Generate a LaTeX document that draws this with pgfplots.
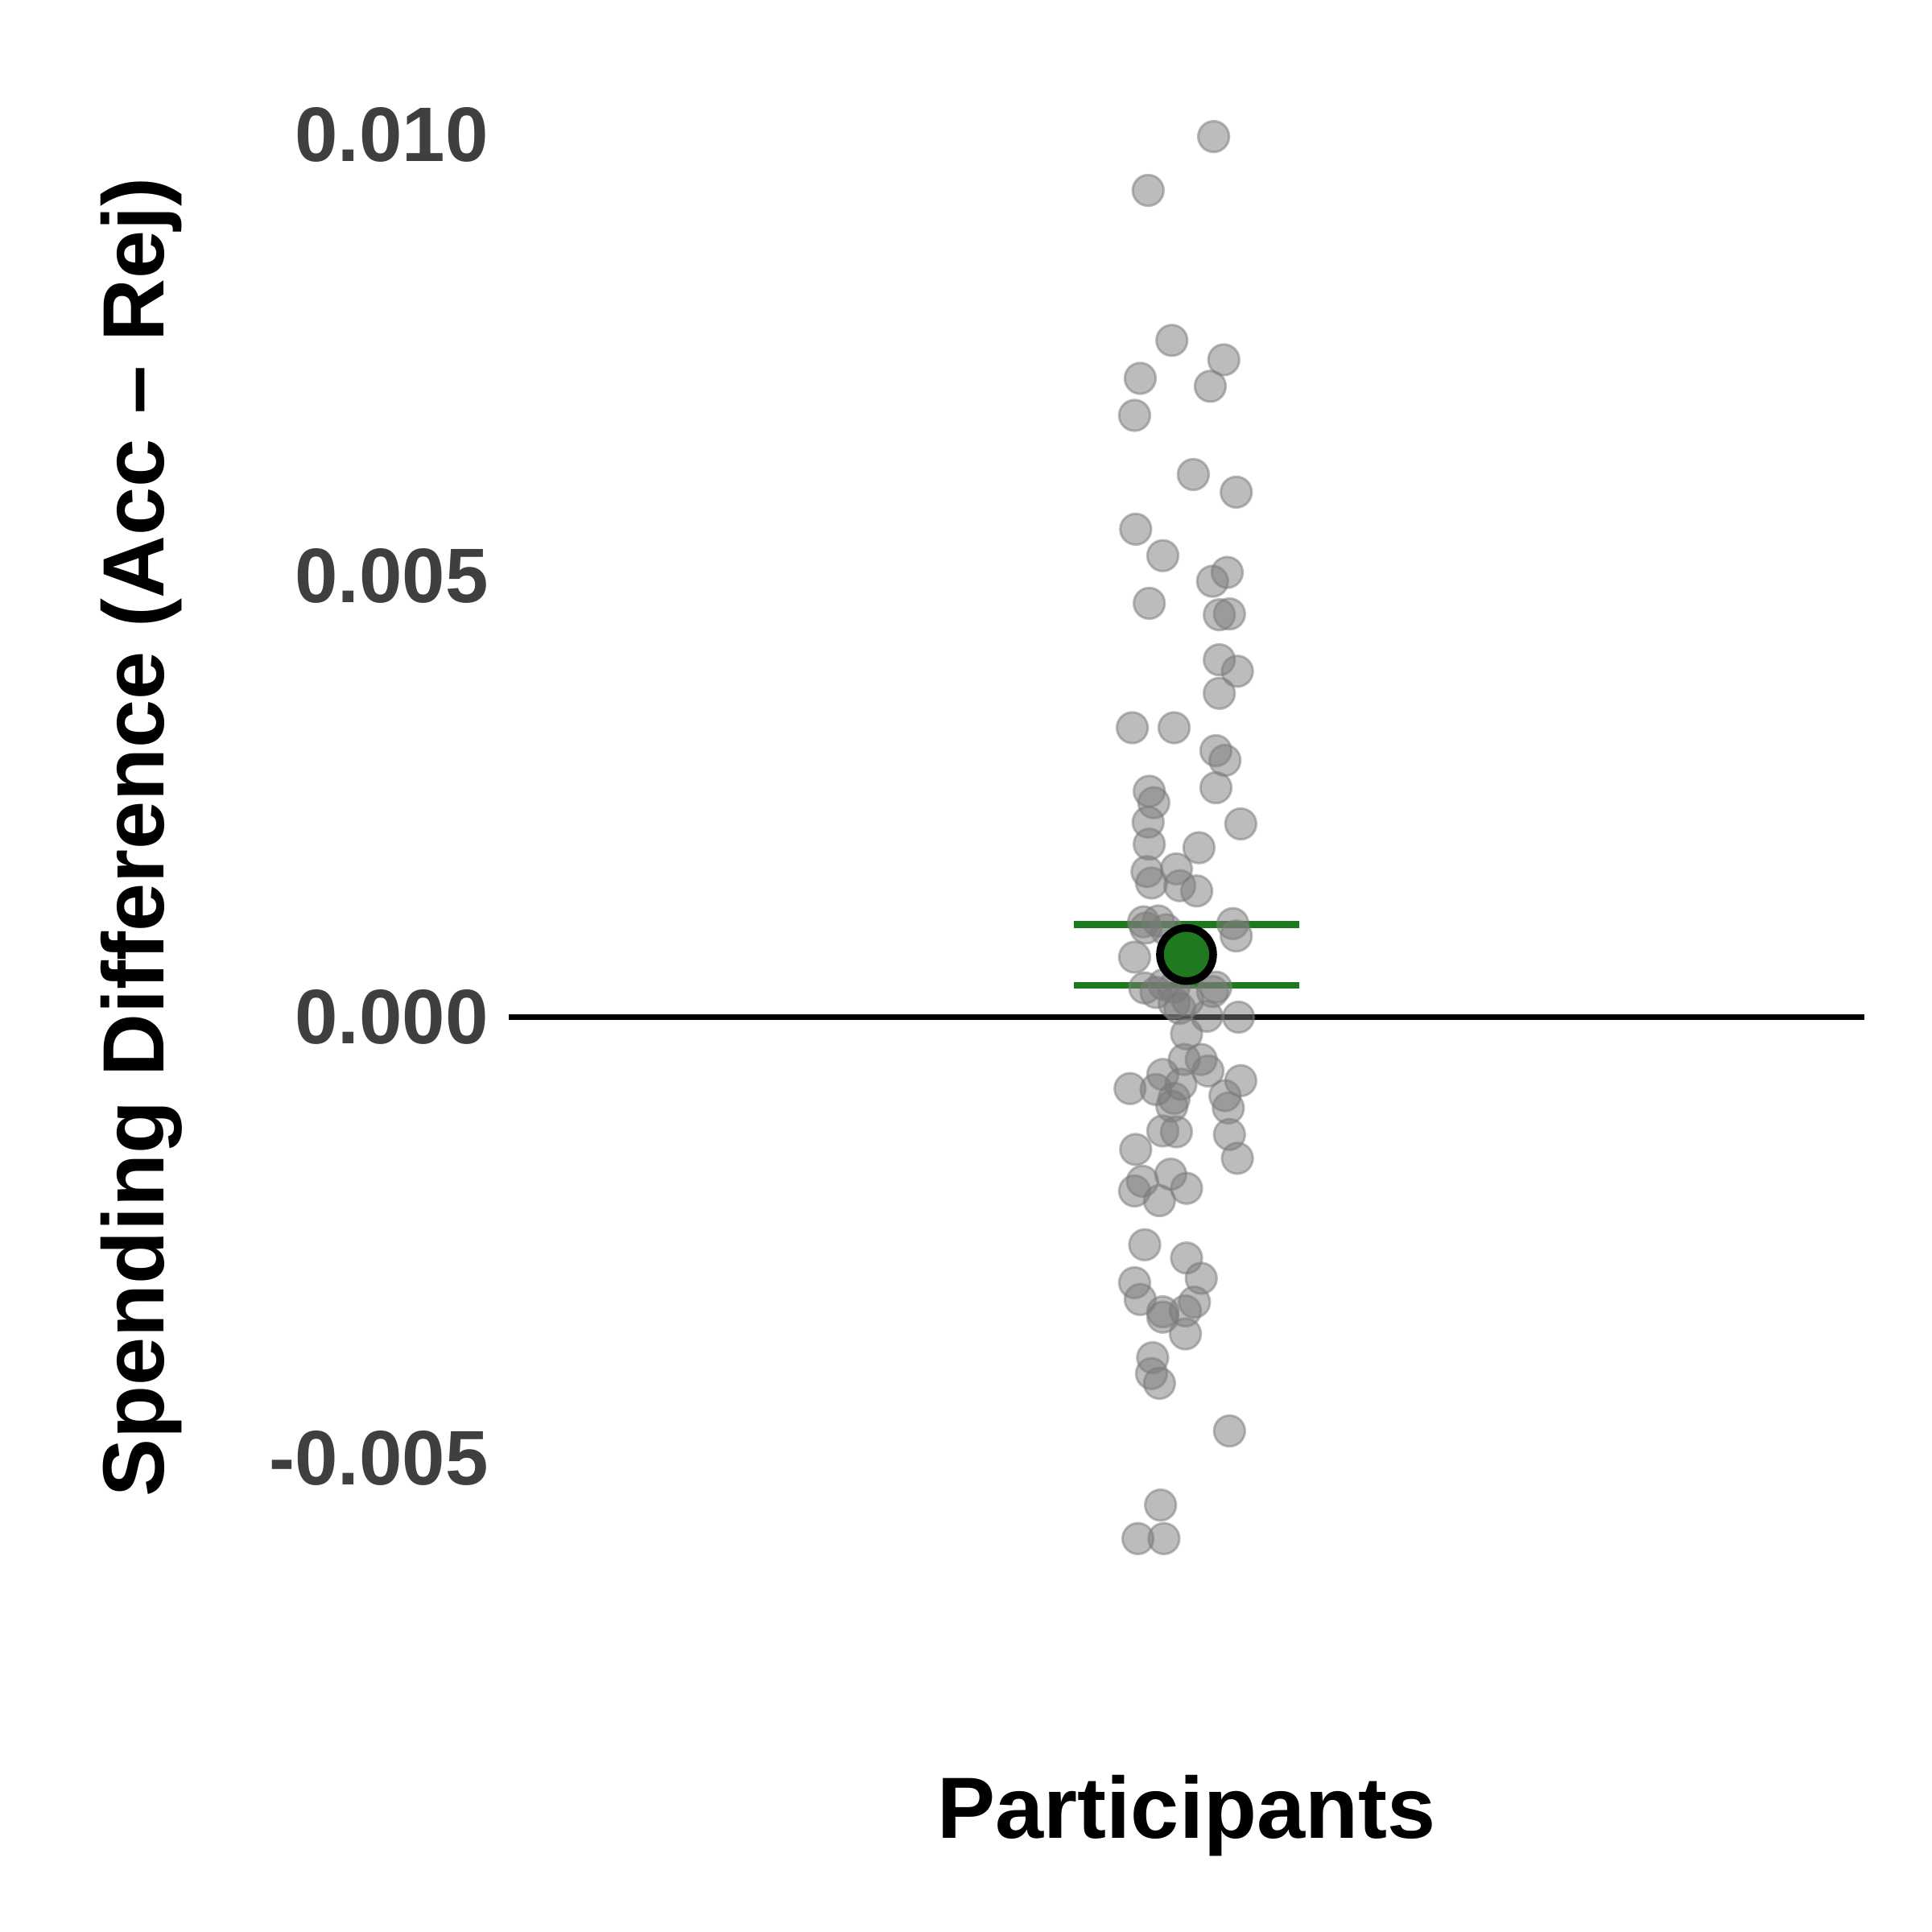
\documentclass[border=0pt]{standalone}
\usepackage{pgfplots}
\pgfplotsset{compat=1.18}
\usepackage{fontspec}
\setmainfont{Liberation Sans}
\definecolor{meangreen}{RGB}{31,122,31}
\definecolor{ticktext}{RGB}{63,63,63}
\begin{document}
\begin{tikzpicture}
\begin{axis}[
  scale only axis, width=280.67pt, height=319.33pt,
  xmin=0.4, xmax=1.6, ymin=-0.0067, ymax=0.01078,
  axis line style={draw=none}, major tick length=0pt, xtick=\empty,
  scaled y ticks=false,
  ytick={-0.005,0,0.005,0.01}, yticklabels={-0.005,0.000,0.005,0.010},
  yticklabel style={font=\fontsize{16}{19}\selectfont\bfseries, text=ticktext, inner sep=0pt, xshift=-4pt},
  ylabel={Spending Difference (Acc -- Rej)},
  ylabel style={font=\fontsize{18}{21}\selectfont\bfseries, at={(rel axis cs:-0.2708,0.5)}, anchor=center},
  xlabel={Participants},
  xlabel style={font=\fontsize{18}{21}\selectfont\bfseries, at={(rel axis cs:0.5,-0.149)}, anchor=base},
  clip=false,
]
% zero reference line
\addplot[black, line width=1.1pt] coordinates {(0.4,0) (1.6,0)};
% individual participants (jittered)
\addplot[only marks, mark=*, mark size=3.2pt,
  mark options={draw=black!52, fill=black!52, draw opacity=0.5, fill opacity=0.5, line width=0.5pt}]
  coordinates {
  (1.024,0.00998) (0.966,0.00937) (0.987,0.00767) (1.033,0.00745) (0.959,0.00724)
  (1.021,0.00715) (0.954,0.00682) (1.006,0.00615) (1.044,0.00595) (0.955,0.00553)
  (0.979,0.00523) (1.036,0.00504) (1.023,0.00494) (0.967,0.00469) (1.029,0.00456)
  (1.038,0.00457) (1.029,0.00405) (1.045,0.00392) (1.029,0.00367) (0.952,0.00328)
  (0.989,0.00328) (1.026,0.00302) (1.034,0.00291) (1.026,0.00260) (0.967,0.00256)
  (0.971,0.00243) (1.048,0.00219) (0.966,0.00221) (0.967,0.00196) (1.011,0.00192)
  (0.965,0.00165) (0.969,0.00152) (0.991,0.00168) (0.994,0.00149) (1.009,0.00143)
  (0.962,0.00108) (0.964,0.00101) (0.975,0.00109) (0.982,0.00099) (1.041,0.00106)
  (1.044,0.00092) (0.954,0.00068) (0.963,0.00033) (0.973,0.00028) (0.980,0.00037)
  (0.989,0.00034) (1.026,0.00034) (1.023,0.00029) (0.989,0.00016) (1.001,0.00019)
  (0.994,0.00010) (1.018,0.00001) (1.046,0.00000) (1.000,-0.00019) (0.998,-0.00048)
  (1.013,-0.00048) (1.019,-0.00061) (0.979,-0.00065) (0.995,-0.00076) (1.048,-0.00072)
  (0.950,-0.00081) (0.973,-0.00082) (0.989,-0.00092) (1.034,-0.00089) (1.037,-0.00103)
  (0.987,-0.00101) (0.979,-0.00129) (0.991,-0.00130) (1.038,-0.00133) (0.955,-0.00150)
  (1.045,-0.00160) (0.961,-0.00186) (0.986,-0.00178) (0.954,-0.00197) (0.976,-0.00208)
  (1.000,-0.00194) (0.963,-0.00258) (1.000,-0.00273) (1.013,-0.00296) (0.954,-0.00301)
  (0.959,-0.00320) (1.007,-0.00323) (0.999,-0.00333) (0.979,-0.00334) (0.979,-0.00340)
  (0.999,-0.00359) (0.970,-0.00386) (0.969,-0.00404) (0.976,-0.00415) (1.038,-0.00469)
  (0.977,-0.00553) (0.957,-0.00591) (0.980,-0.00591)
  };
% mean
\addplot[only marks, mark=*, mark size=5.5pt,
  mark options={fill=meangreen, draw=black, line width=1.6pt}]
  coordinates {(1,0.00071)};
% error bar (upper, lower, stem)
\addplot[meangreen, line width=1.4pt] coordinates {(0.9,0.00105) (1.1,0.00105)};
\addplot[meangreen, line width=1.4pt] coordinates {(0.9,0.00036) (1.1,0.00036)};
\addplot[meangreen, line width=1.4pt] coordinates {(1,0.00036) (1,0.00105)};
% page extent
\path (rel axis cs:-0.3753,-0.2098) rectangle (rel axis cs:1.0499,1.0428);
\end{axis}
\end{tikzpicture}
\end{document}
